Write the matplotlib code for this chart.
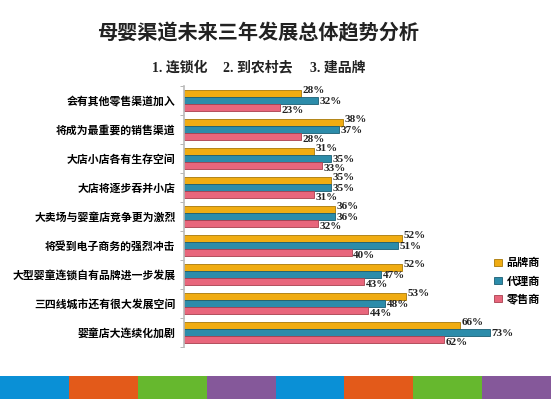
import matplotlib
matplotlib.use("Agg")
import matplotlib.pyplot as plt
import numpy as np

categories = ["会有其他零售渠道加入", "将成为最重要的销售渠道", "大店小店各有生存空间",
              "大店将逐步吞并小店", "大卖场与婴童店竞争更为激烈", "将受到电子商务的强烈冲击",
              "大型婴童连锁自有品牌进一步发展", "三四线城市还有很大发展空间", "婴童店大连续化加剧"]
brand = [28, 38, 31, 35, 36, 52, 52, 53, 66]
agent = [32, 37, 35, 35, 36, 51, 47, 48, 73]
retail = [23, 28, 33, 31, 32, 40, 43, 44, 62]
series_names = ["品牌商", "代理商", "零售商"]
colors = ["#F0AC12", "#2C8CAA", "#E8667C"]
edges = ["#A87808", "#1B5E73", "#A8404F"]
strip_colors = ["#0A90D6", "#E35A1A", "#66B82E", "#85589A"] * 2

cjk = ["Noto Sans CJK SC", "DejaVu Sans"]
serif = ["Liberation Serif", "Noto Sans CJK SC"]

fig = plt.figure(figsize=(5.51, 3.99), dpi=100)
fig.patch.set_facecolor("white")

ax = fig.add_axes([184 / 551, 1 - 347 / 399, 335 / 551, 261 / 399])
y = np.arange(len(categories))
h = 0.24
label_dy = [-0.1, 0.02, 0.12]
for i, vals in enumerate([brand, agent, retail]):
    pos = y + (i - 1) * h
    ax.barh(pos, vals, height=h, color=colors[i], edgecolor=edges[i],
            linewidth=0.6, label=series_names[i])
    for p, v in zip(pos, vals):
        ax.text(v + 0.4, p + label_dy[i], f"{v}%", va="center", ha="left",
                fontsize=8, fontweight="bold", family=serif, color="#222222")

ax.set_xlim(0, 80)
ax.set_ylim(len(categories) - 0.5, -0.5)
ax.set_yticks(y)
ax.set_yticklabels(categories, family=cjk, fontsize=7.8, fontweight="bold")
ax.tick_params(axis="y", length=0, pad=6)
ax.set_yticks(np.arange(-0.5, len(categories)), minor=True)
ax.tick_params(axis="y", which="minor", length=3, color="#aaaaaa")
ax.set_xticks([])
for s in ["top", "right", "bottom"]:
    ax.spines[s].set_visible(False)
ax.spines["left"].set_color("#bbbbbb")
ax.spines["left"].set_linewidth(1.2)

fig.legend(*ax.get_legend_handles_labels(), loc="upper left",
           bbox_to_anchor=(490 / 551, 1 - 252 / 399), frameon=False,
           prop={"family": cjk, "size": 8, "weight": "bold"},
           handlelength=0.7, handleheight=0.7, handletextpad=0.4,
           labelspacing=0.45, borderaxespad=0)

fig.text(258 / 551, 1 - 33 / 399, "母婴渠道未来三年发展总体趋势分析", ha="center",
         va="center", family=cjk, fontsize=14.5, fontweight="bold", color="#222222")
for x0, s in [(152, "1. 连锁化"), (223, "2. 到农村去"), (310, "3. 建品牌")]:
    fig.text(x0 / 551, 1 - 68 / 399, s, ha="left", va="center", family=serif,
             fontsize=10, fontweight="bold", color="#222222")

sax = fig.add_axes([0, 0, 1, 23 / 399])
sax.bar(np.arange(len(strip_colors)), 1, width=1, color=strip_colors, align="edge")
sax.set_xlim(0, len(strip_colors))
sax.set_ylim(0, 1)
sax.axis("off")

fig.savefig("out.png", dpi=100)
